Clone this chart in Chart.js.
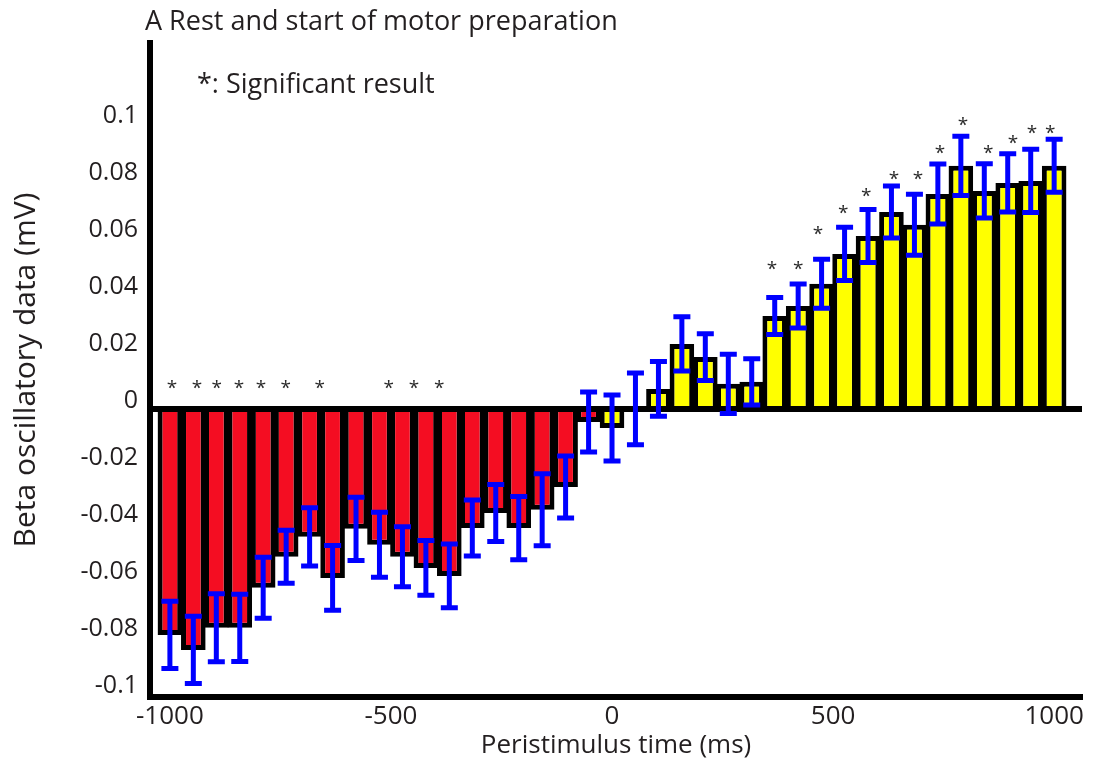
<!DOCTYPE html>
<html>
<head>
<meta charset="utf-8">
<script src="https://cdn.jsdelivr.net/npm/chart.js@4/dist/chart.umd.min.js"></script>
<style>
  html, body { margin: 0; padding: 0; background: #ffffff; }
  #wrap { width: 1100px; height: 769px; position: relative; }
</style>
</head>
<body>
<div id="wrap"><canvas id="c" width="1100" height="769"></canvas></div>
<script>
// ---------------- data ----------------
const times = [-1000, -947, -895, -842, -789, -737, -684, -632, -579, -526,
               -474, -421, -368, -316, -263, -211, -158, -105, -53, 0,
               53, 105, 158, 211, 263, 316, 368, 421, 474, 526,
               579, 632, 684, 737, 789, 842, 895, 947, 1000];
const values = [-0.0793, -0.0846, -0.0768, -0.0768, -0.0628, -0.0519, -0.0449, -0.0593, -0.0421, -0.0477,
                -0.0519, -0.0558, -0.0586, -0.0418, -0.0365, -0.0418, -0.0354, -0.0274, -0.0046, -0.0067,
                0.0, 0.0070, 0.0228, 0.0182, 0.0088, 0.0095, 0.0326, 0.0361, 0.0439, 0.0544,
                0.0607, 0.0691, 0.0646, 0.0754, 0.0853, 0.0765, 0.0793, 0.0800, 0.0853];
const errors = [0.0118, 0.0118, 0.0119, 0.0118, 0.0107, 0.0093, 0.0102, 0.0114, 0.0111, 0.0114,
                0.0105, 0.0096, 0.0112, 0.0098, 0.0100, 0.0111, 0.0126, 0.0109, 0.0105, 0.0116,
                0.0126, 0.0096, 0.0095, 0.0082, 0.0104, 0.0081, 0.0065, 0.0077, 0.0086, 0.0093,
                0.0093, 0.0091, 0.0107, 0.0105, 0.0104, 0.0095, 0.0102, 0.0111, 0.0093];
const sigTimes = [-995, -939, -894, -844, -794, -738, -661, -505, -448, -391,
                  362, 421, 466, 523, 575, 638, 692, 742, 794, 851, 907, 950, 991];
const sigLevels = [0.0084, 0.0084, 0.0084, 0.0084, 0.0084, 0.0084, 0.0084, 0.0084, 0.0084, 0.0084,
                   0.0502, 0.0502, 0.0625, 0.0698, 0.0761, 0.0818, 0.0818, 0.0912, 0.1007, 0.0912, 0.0947, 0.0979, 0.0979];
const xTickValues = [-1000, -500, 0, 500, 1000];
const yTickValues = [0.1, 0.08, 0.06, 0.04, 0.02, 0, -0.02, -0.04, -0.06, -0.08, -0.1];
const yTickLabels = ['0.1', '0.08', '0.06', '0.04', '0.02', '0', '-0.02', '-0.04', '-0.06', '-0.08', '-0.1'];
const chartTitle = 'A Rest and start of motor preparation';
const sigNote = '*: Significant result';
const xAxisTitle = 'Peristimulus time (ms)';
const yAxisTitle = 'Beta oscillatory data (mV)';

// ---------------- styles ----------------
const FONT = "'Open Sans', 'Noto Sans', sans-serif";
const TEXT = '#231f20';
const RED = '#f40d22';
const YELLOW = '#ffff00';

const errorBars = {
  id: 'errorBars',
  afterDatasetsDraw(chart) {
    const { ctx, scales: { x, y } } = chart;
    ctx.save();
    ctx.strokeStyle = '#0000ff';
    ctx.lineWidth = 5;
    ctx.lineCap = 'butt';
    times.forEach((t, i) => {
      const px = x.getPixelForValue(t);
      const top = y.getPixelForValue(values[i] + errors[i]);
      const bot = y.getPixelForValue(values[i] - errors[i]);
      ctx.beginPath();
      ctx.moveTo(px, top); ctx.lineTo(px, bot);
      ctx.moveTo(px - 8.5, top); ctx.lineTo(px + 8.5, top);
      ctx.moveTo(px - 8.5, bot); ctx.lineTo(px + 8.5, bot);
      ctx.stroke();
    });
    // significance asterisks
    ctx.fillStyle = '#2a2a2a';
    ctx.font = '19px ' + FONT;
    ctx.textAlign = 'center';
    ctx.textBaseline = 'alphabetic';
    const m = ctx.measureText('*');
    const off = (m.actualBoundingBoxAscent - m.actualBoundingBoxDescent) / 2;
    sigTimes.forEach((t, i) => {
      ctx.fillText('*', x.getPixelForValue(t), y.getPixelForValue(sigLevels[i]) + off);
    });
    ctx.restore();
  },
  afterDraw(chart) {
    const { ctx } = chart;
    ctx.save();
    ctx.fillStyle = TEXT;
    ctx.textAlign = 'left';
    ctx.textBaseline = 'alphabetic';
    ctx.font = '27px ' + FONT;
    ctx.fillText(chartTitle, 145, 30);
    ctx.font = '27px ' + FONT;
    ctx.fillText(sigNote, 197, 93);
    ctx.restore();
  }
};

new Chart(document.getElementById('c'), {
  type: 'bar',
  data: {
    datasets: [{
      data: times.map((t, i) => ({ x: t, y: values[i] })),
      backgroundColor: times.map(t => (t < 0 ? RED : YELLOW)),
      borderColor: '#000000',
      borderWidth: 5,
      borderSkipped: 'start',
      barPercentage: 1.07,
      categoryPercentage: 1,
      inflateAmount: 0
    }]
  },
  options: {
    responsive: false,
    animation: false,
    devicePixelRatio: 1,
    layout: { padding: { top: 43, right: 18, left: 0, bottom: 0 } },
    plugins: { legend: { display: false }, tooltip: { enabled: false }, title: { display: false } },
    scales: {
      x: {
        type: 'linear',
        min: -1045,
        max: 1063,
        offset: false,
        afterBuildTicks: s => { s.ticks = xTickValues.map(v => ({ value: v })); },
        afterFit: s => { s.height = 72; s.paddingLeft = 0; s.paddingRight = 0; },
        grid: { display: false, drawTicks: false },
        border: { display: true, color: '#000000', width: 6 },
        ticks: {
          padding: 4, color: TEXT, autoSkip: false, maxRotation: 0,
          font: { family: FONT, size: 26 },
          callback: v => String(v)
        },
        title: {
          display: true, text: xAxisTitle, color: TEXT,
          font: { family: FONT, size: 26 },
          padding: { top: 0, bottom: 8 }
        }
      },
      y: {
        min: -0.1011,
        max: 0.1284,
        afterBuildTicks: s => { s.ticks = yTickValues.map(v => ({ value: v })); },
        afterFit: s => { s.width = 150; s.paddingTop = 0; s.paddingBottom = 0; },
        grid: {
          drawTicks: false,
          color: c => (c.tick && c.tick.value === 0 ? '#000000' : 'rgba(0,0,0,0)'),
          lineWidth: 6
        },
        border: { display: true, color: '#000000', width: 6 },
        ticks: {
          padding: 12, labelOffset: -8, color: TEXT, autoSkip: false,
          font: { family: FONT, size: 25 },
          callback: (v, i) => yTickLabels[i]
        },
        title: {
          display: true, text: yAxisTitle, color: TEXT,
          font: { family: FONT, size: 30 },
          padding: { top: 8, bottom: 0 }
        }
      }
    }
  },
  plugins: [errorBars]
});
</script>
</body>
</html>
